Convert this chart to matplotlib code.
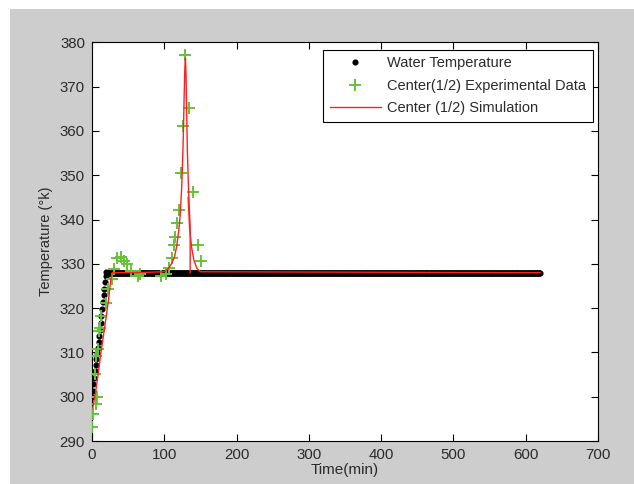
import numpy as np
import matplotlib
matplotlib.use("Agg")
import matplotlib.pyplot as plt
from matplotlib.patches import Rectangle

plt.rcParams['font.family'] = ['Liberation Sans', 'DejaVu Sans']

# ---- Water temperature (black dots) ----
water_rise_t = [0, 1, 2, 3, 4, 5, 6, 7, 8, 9, 10, 11, 12, 13, 14, 15, 16, 17, 18, 19, 20]
water_rise_T = [300.0, 301.2, 302.8, 304.3, 305.9, 307.2, 308.6, 309.9, 311.0, 312.3, 313.6,
                315.1, 316.6, 318.3, 319.9, 321.4, 322.9, 324.4, 325.9, 327.2, 328.1]
water_plateau_start = 21
water_plateau_end = 620
water_plateau_T = 328.0

# ---- Center (1/2) experimental data (green +) ----
exp_t = [0, 2, 5, 7, 4.5, 5.6, 8, 9.5, 11, 13, 19, 22, 27, 31, 35, 40, 44, 49, 54.5, 63, 66,
         95, 102, 107, 110.7, 113.5, 114.6, 117.4, 119.7, 122.5, 125.8, 129.2, 134.3, 140,
         147, 150.6]
exp_T = [293.1, 296.2, 298.3, 300.0, 305.1, 309.3, 310.8, 314.9, 315.6, 318.2, 321.2, 324.2,
         326.5, 328.8, 331.4, 331.5, 330.6, 330.0, 328.4, 327.3, 327.6,
         327.3, 327.6, 329.1, 331.4, 334.2, 336.1, 339.1, 342.1, 350.4, 361.1, 377.2, 365.1,
         346.2, 334.2, 330.6]

# ---- Center (1/2) simulation (red line) ----
sim_t = [1, 4, 8, 12, 16, 20, 23, 26, 28, 60, 100, 105, 110, 114, 117, 120, 122, 124,
         125.5, 126.5, 127.5, 128.5, 129.3, 130.0, 131.0, 132.0, 133.5, 135.0, 135.8, 135.8]
sim_T = [297.5, 300.0, 304.5, 309.5, 314.0, 318.5, 322.0, 326.5, 328.0, 328.0, 328.2, 328.8,
         330.0, 331.5, 333.8, 337.5, 341.0, 347.0, 354.0, 360.0, 368.0, 374.5, 376.5, 373.0,
         364.0, 355.0, 347.0, 341.0, 338.5, 328.0]
sim_tail_t = [133.0, 135.0, 138.0, 141.0, 145.0, 150.0, 620.0]
sim_tail_T = [345.0, 338.0, 333.5, 330.8, 329.0, 328.2, 328.0]

W, H = 634, 484
fig = plt.figure(figsize=(W / 100, H / 100), dpi=100)
fig.patch.set_facecolor('white')
fig.patches.append(Rectangle((10 / W, 0), 1 - 10 / W, 1 - 9 / H, transform=fig.transFigure,
                             facecolor='#cdcdcd', edgecolor='none', zorder=-10))

ax = fig.add_axes([92 / W, 1 - 441 / H, (598 - 92) / W, (441 - 42.3) / H])
ax.set_facecolor('white')

water_t = list(water_rise_t) + list(np.arange(water_plateau_start, water_plateau_end + 1))
water_T = list(water_rise_T) + [water_plateau_T] * (water_plateau_end - water_plateau_start + 1)

ax.plot(water_t, water_T, linestyle='none', marker='o', markersize=3.4, color='black',
        label='Water Temperature', zorder=2)
ax.plot(exp_t, exp_T, linestyle='none', marker='+', markersize=9, markeredgewidth=1.4,
        color='#66c23a', label='Center(1/2) Experimental Data', zorder=3)
ax.plot(sim_t, sim_T, color='#ff2020', linewidth=1.0, label='Center (1/2) Simulation', zorder=4)
ax.plot(sim_tail_t, sim_tail_T, color='#ff2020', linewidth=1.0, zorder=4)

ax.set_xlim(0, 700)
ax.set_ylim(290, 380)
ax.set_xticks(range(0, 701, 100))
ax.set_yticks(range(290, 381, 10))
ax.tick_params(direction='in', top=True, right=True, length=5, width=0.8,
               labelsize=10.8, labelcolor='#2a2a2a', pad=5)
for s in ax.spines.values():
    s.set_linewidth(0.8)
ax.set_xlabel('Time(min)', fontsize=11, labelpad=1, color='#2a2a2a')
ax.set_ylabel('Temperature (°k)', fontsize=10.5, labelpad=5, color='#2a2a2a')

leg = ax.legend(loc='upper right', bbox_to_anchor=(0.990, 0.981), borderaxespad=0,
                fontsize=10.5, frameon=True, fancybox=False, edgecolor='black',
                framealpha=1, borderpad=0.45, handlelength=3.5, handletextpad=0.45,
                labelspacing=0.58, markerscale=1.0)
leg.get_frame().set_linewidth(0.8)
for t in leg.get_texts():
    t.set_color('#2a2a2a')

fig.savefig('out.png', dpi=100)
